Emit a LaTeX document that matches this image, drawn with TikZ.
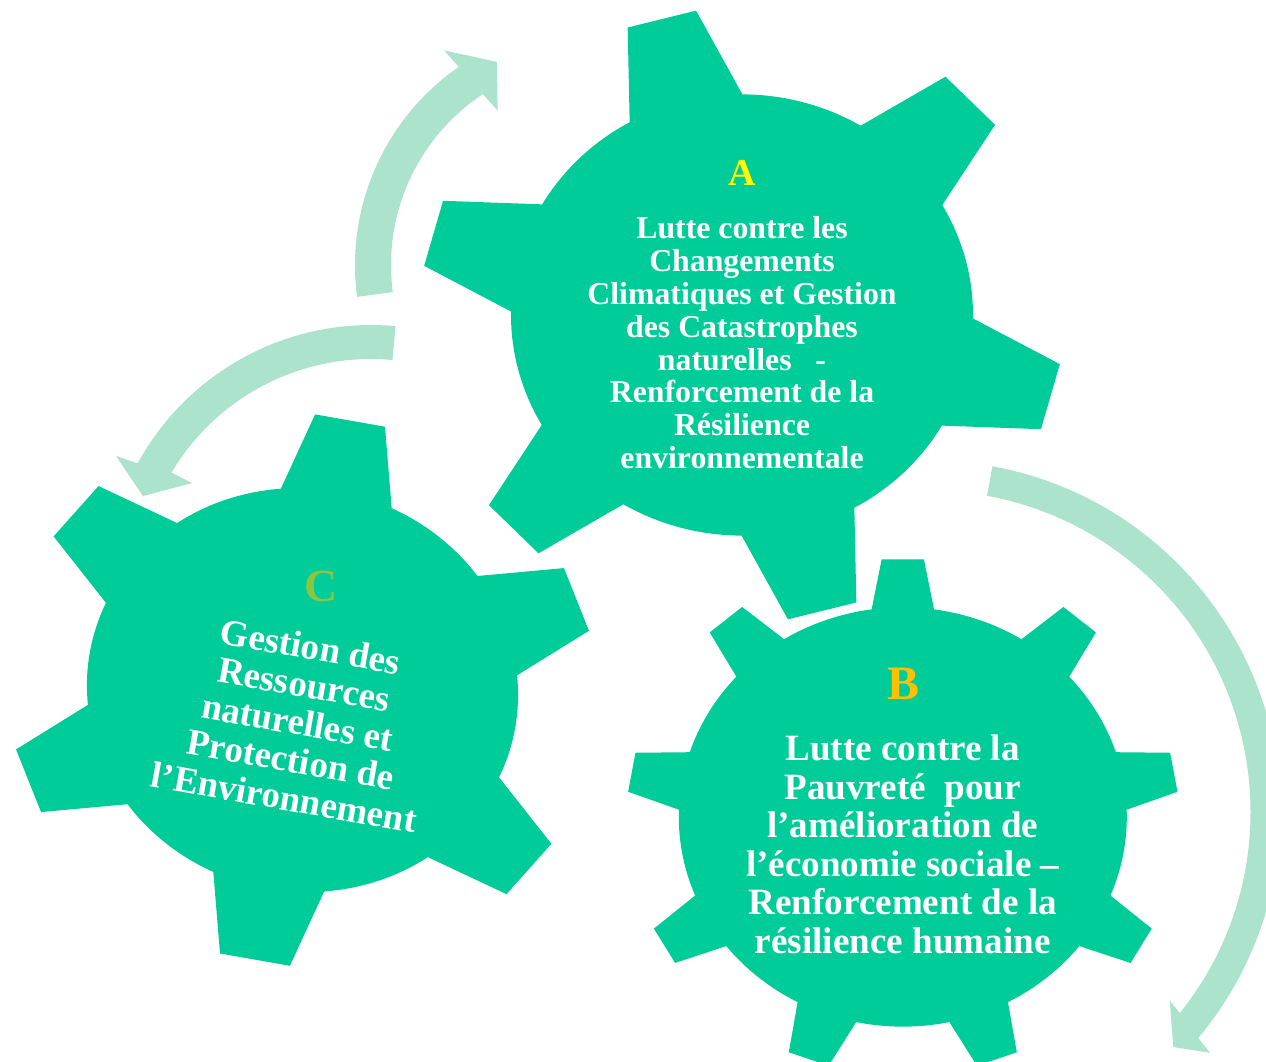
\documentclass[tikz,border=0pt]{standalone}
\usepackage{fontspec}
\setmainfont{Liberation Serif}
\definecolor{engrenage}{RGB}{0,204,153}
\definecolor{fleche}{RGB}{172,227,204}
\definecolor{jauneA}{RGB}{255,255,0}
\definecolor{orangeB}{RGB}{255,192,0}
\definecolor{vertC}{RGB}{140,198,63}
\begin{document}
\begin{tikzpicture}[x=1pt, y=1pt,
    texte/.style={text=white, align=center, inner sep=0pt},
    lettre/.style={inner sep=0pt}]
      \useasboundingbox (0,0) rectangle (1266,1061) ;
      \fill[white] (0,0) rectangle (1266,1061) ;
      \coordinate (GA) at (742,746) ;
      \coordinate (GB) at (902.8,244) ;
      \coordinate (GC) at (302.5,370.9) ;
      \begin{scope}[shift={(GA)}, yscale=0.955]
        \fill[engrenage] (-30.1:231) \foreach \k in {0,...,5}
          { -- (\k*60-21.8:322) -- (\k*60-9.2:322) -- (\k*60-0.9:231)
            arc[start angle=\k*60-0.9, end angle=\k*60+29.9, radius=231] } -- cycle ;
      \end{scope}
      \begin{scope}[shift={(GB)}, yscale=0.936]
        \fill[engrenage] (2:224) \foreach \k in {0,...,8}
          { -- (\k*40+5.6:276) -- (\k*40+14.4:276) -- (\k*40+18:224)
            arc[start angle=\k*40+18, end angle=\k*40+42, radius=224] } -- cycle ;
      \end{scope}
      \begin{scope}[shift={(GC)}, rotate=-10, yscale=0.933]
        \fill[engrenage] (14.9:216) \foreach \k in {0,...,5}
          { -- (\k*60+23.1:295.5) -- (\k*60+36.9:295.5) -- (\k*60+45.1:216)
            arc[start angle=\k*60+45.1, end angle=\k*60+74.9, radius=216] } -- cycle ;
      \end{scope}
      \begin{scope}[shift={(596,796)}]
        \fill[fleche] (187.6:241) arc[start angle=187.6, end angle=124.7, radius=241]
          -- (125.3:263) -- (116:226) -- (122.5:183) -- (123.5:205)
          arc[start angle=123.5, end angle=187.6, radius=205] -- cycle ;
      \end{scope}
      \begin{scope}[shift={(371,470)}]
        \fill[fleche] (84.7:266) arc[start angle=84.7, end angle=151.3, radius=266]
          -- (152.1:288.5) -- (157.4:247) -- (148.9:209) -- (149.3:232)
          arc[start angle=149.3, end angle=84.7, radius=232] -- cycle ;
      \end{scope}
      \begin{scope}[shift={(929,249)}]
        \fill[fleche] (79.6:351.5) arc[start angle=79.6, end angle=-40, radius=351.5]
          -- (-40.6:370) -- (-43.9:339) -- (-38.1:306) -- (-38.7:321.5)
          arc[start angle=-38.7, end angle=79.6, radius=321.5] -- cycle ;
      \end{scope}
      \node[lettre, text=jauneA, font=\bfseries\fontsize{38}{40}\selectfont] (A) at (742.5,888.5){A} ;
      \node[lettre, text=orangeB, font=\bfseries\fontsize{48}{50}\selectfont] (B) at (903,377){B} ;
      \node[lettre, text=vertC, font=\bfseries\fontsize{46}{48}\selectfont] (C) at (321.5,475){C} ;
      \node[texte, font=\bfseries\fontsize{31.8}{32.8}\selectfont] (tA) at (742,718.1)
        {Lutte contre les\\Changements\\Climatiques et Gestion\\des Catastrophes\\naturelles~~~-\\Renforcement de la\\Résilience\\environnementale} ;
      \node[texte, font=\bfseries\fontsize{37.1}{38.5}\selectfont] (tB) at (902.7,216.5)
        {Lutte contre la\\Pauvreté~~pour\\l’amélioration de\\l’économie sociale –\\Renforcement de la\\résilience humaine} ;
      \node[texte, rotate=-10, font=\bfseries\fontsize{37}{38.2}\selectfont] (tC) at (297.5,339.1)
        {Gestion des\\Ressources\\naturelles et\\Protection de\\l’Environnement} ;
    \end{tikzpicture}
\end{document}
